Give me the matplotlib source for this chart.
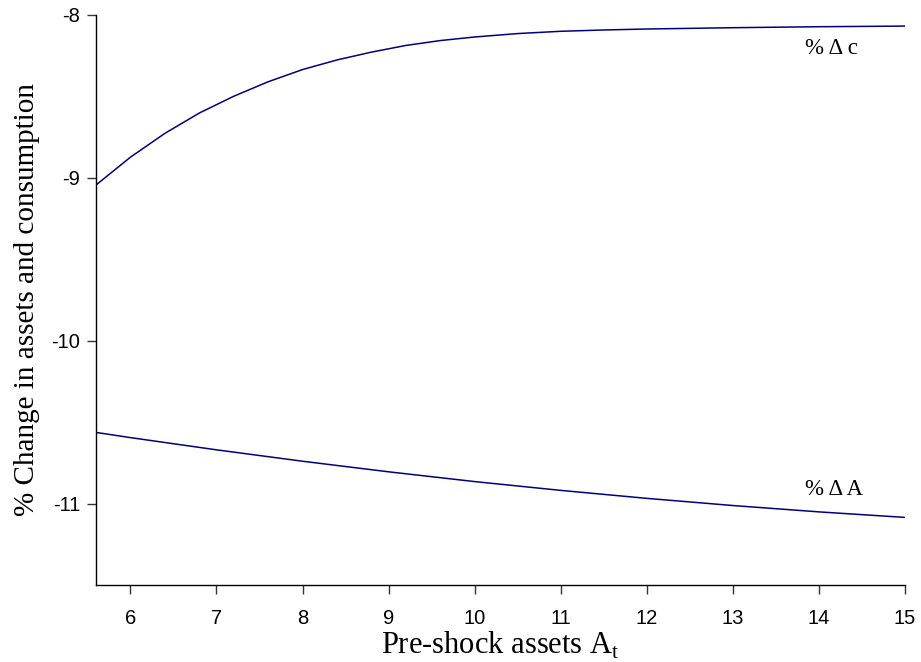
import numpy as np
import matplotlib
matplotlib.use('Agg')
import matplotlib.pyplot as plt

# dados
ativos_c = [5.6, 6.0, 6.4, 6.8, 7.2, 7.6, 8.0, 8.4, 8.8, 9.2, 9.6, 10.0, 10.5, 11.0, 11.5, 12.0, 13.0, 14.0, 15.0]
var_c = [-9.044, -8.873, -8.727, -8.602, -8.499, -8.410, -8.335, -8.276, -8.228, -8.187, -8.157,
         -8.135, -8.114, -8.100, -8.092, -8.086, -8.078, -8.072, -8.068]

ativos_A = [5.6, 6.0, 7.0, 8.0, 9.0, 10.0, 11.0, 12.0, 13.0, 14.0, 15.0]
var_A = [-10.563, -10.595, -10.670, -10.740, -10.805, -10.865, -10.919, -10.968, -11.012, -11.051, -11.085]

xticks = [6, 7, 8, 9, 10, 11, 12, 13, 14, 15]
yticks = [-8, -9, -10, -11]

plt.rcParams['mathtext.fontset'] = 'custom'
plt.rcParams['mathtext.rm'] = 'Liberation Serif'

fig = plt.figure(figsize=(9.21, 6.62), dpi=100)
ax = fig.add_axes([96/921, 77/662, (905-96)/921, (585-15)/662])

ax.plot(ativos_c, var_c, color='#00007f', lw=1.1)
ax.plot(ativos_A, var_A, color='#00007f', lw=1.1)

ax.set_xlim(5.6, 15)
ax.set_ylim(-11.5, -8)
ax.set_xticks(xticks)
ax.set_yticks(yticks)
ax.set_yticklabels([str(t) for t in yticks])

for s in ['top', 'right']:
    ax.spines[s].set_visible(False)
for s in ['left', 'bottom']:
    ax.spines[s].set_linewidth(1.0)
    ax.spines[s].set_color('black')

ax.tick_params(axis='both', direction='out', length=6.5, width=1, color='#333333',
               labelsize=14.5, labelcolor='black')
ax.tick_params(axis='x', pad=11)
ax.tick_params(axis='y', pad=5)
for lbl in ax.get_xticklabels() + ax.get_yticklabels():
    lbl.set_fontfamily('Liberation Sans')

ax.set_xlabel(r'Pre-shock assets A$_{\rm t}$', fontfamily='Liberation Serif', fontsize=22)
ax.set_ylabel('% Change in assets and consumption', fontfamily='Liberation Serif', fontsize=21)
ax.xaxis.set_label_coords(0.5, -0.079)
ax.yaxis.set_label_coords(-0.069, 0.5)

ax.text(13.84, -8.203, '% Δ c', fontfamily='Liberation Serif', fontsize=16.5, va='center', ha='left')
ax.text(13.84, -10.915, '% Δ A', fontfamily='Liberation Serif', fontsize=16.5, va='center', ha='left')

fig.savefig('out.png', dpi=100)
